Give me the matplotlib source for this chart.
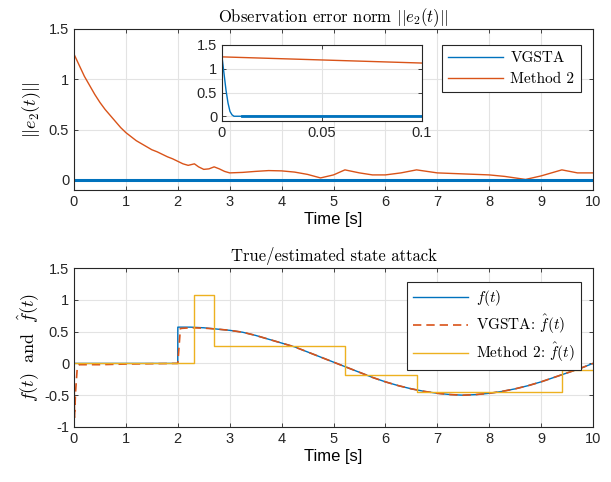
import numpy as np
import matplotlib
matplotlib.use("Agg")
import matplotlib.pyplot as plt

plt.rcParams.update({
    "font.family": ["Liberation Sans", "DejaVu Sans"],
    "mathtext.fontset": "cm",
    "axes.formatter.use_mathtext": False,
    "axes.linewidth": 0.8,
})

BLUE = "#0072BD"
ORANGE = "#D95319"
YELLOW = "#EDB120"
SERIF = "cmr10"

# ---- top panel: observation error norm ----
t_m2 = [0, 0.1, 0.2, 0.3, 0.4, 0.5, 0.6, 0.7, 0.8, 0.9, 1.0, 1.1, 1.2, 1.3, 1.4,
        1.5, 1.6, 1.7, 1.8, 1.9, 2.0, 2.1, 2.2, 2.32, 2.4, 2.5, 2.6, 2.7, 2.8,
        2.9, 3.0, 3.25, 3.5, 3.75, 4.0, 4.25, 4.5, 4.75, 5.0, 5.22, 5.5, 5.75,
        6.0, 6.3, 6.6, 7.0, 7.5, 8.0, 8.3, 8.7, 9.0, 9.4, 9.7, 10.0]
e_m2 = [1.25, 1.14, 1.03, 0.94, 0.85, 0.77, 0.70, 0.64, 0.58, 0.52, 0.47, 0.43,
        0.39, 0.36, 0.33, 0.30, 0.28, 0.255, 0.23, 0.21, 0.185, 0.16, 0.145, 0.16,
        0.13, 0.105, 0.11, 0.13, 0.11, 0.085, 0.07, 0.075, 0.085, 0.093, 0.09,
        0.078, 0.055, 0.02, 0.05, 0.10, 0.07, 0.05, 0.05, 0.07, 0.10, 0.07, 0.06,
        0.05, 0.035, 0.005, 0.04, 0.10, 0.07, 0.07]
t_vg = [0, 0.001, 0.002, 0.003, 0.004, 0.005, 0.006, 0.01, 0.1, 10.0]
e_vg = [1.25, 0.90, 0.55, 0.28, 0.10, 0.03, 0.0, 0.0, 0.0, 0.0]
t_m2_zoom = [0, 0.1]
e_m2_zoom = [1.25, 1.12]

# ---- bottom panel: true / estimated attack ----
t_f = [0, 1.999, 2.0, 2.25, 2.5, 2.75, 3.0, 3.25, 3.5, 3.75, 4.0, 4.25, 4.5, 4.75,
       5.0, 5.25, 5.5, 5.75, 6.0, 6.25, 6.5, 6.75, 7.0, 7.25, 7.5, 7.75, 8.0,
       8.25, 8.5, 8.75, 9.0, 9.25, 9.5, 9.75, 10.0]
f_true = [0, 0, 0.57, 0.57, 0.56, 0.54, 0.52, 0.49, 0.44, 0.38, 0.32, 0.26, 0.18,
          0.10, 0.02, -0.06, -0.14, -0.22, -0.29, -0.35, -0.40, -0.44, -0.47,
          -0.49, -0.50, -0.49, -0.47, -0.44, -0.40, -0.35, -0.29, -0.22, -0.15,
          -0.08, 0.0]
t_vgf = [0, 0.01, 0.03, 0.06, 0.1, 0.5, 1.0, 2.0, 2.05, 2.25, 2.5, 2.75, 3.0, 3.25,
         3.5, 3.75, 4.0, 4.25, 4.5, 4.75, 5.0, 5.25, 5.5, 5.75, 6.0, 6.25, 6.5,
         6.75, 7.0, 7.25, 7.5, 7.75, 8.0, 8.25, 8.5, 8.75, 9.0, 9.25, 9.5, 9.75, 10.0]
f_vg = [0, -0.85, -0.45, -0.10, -0.02, -0.02, -0.01, 0.0, 0.55, 0.56, 0.555, 0.54,
        0.52, 0.49, 0.44, 0.38, 0.32, 0.26, 0.18, 0.10, 0.02, -0.06, -0.14, -0.22,
        -0.29, -0.35, -0.40, -0.44, -0.47, -0.49, -0.50, -0.49, -0.47, -0.44,
        -0.40, -0.35, -0.29, -0.22, -0.15, -0.08, 0.0]
t_step = [0, 2.32, 2.7, 5.22, 6.6, 9.4, 10.0]
f_m2 = [0.0, 1.08, 0.27, -0.19, -0.45, -0.10, -0.10]

fig = plt.figure(figsize=(6.11, 4.82), dpi=100)
W, H = 611, 482

def px_axes(l, t, r, b):
    return fig.add_axes([l / W, 1 - b / H, (r - l) / W, (b - t) / H])

def style(ax):
    ax.grid(True, color="#e3e3e3", lw=0.8)
    ax.set_axisbelow(True)
    ax.tick_params(direction="in", length=3, width=0.6, labelsize=10.5,
                   colors="#262626", top=True, right=True)
    for s in ax.spines.values():
        s.set_color("#262626")

ax1 = px_axes(74, 29, 593, 190)
ax1.plot(t_vg, e_vg, color=BLUE, lw=1.0, label="VGSTA")
ax1.plot(t_m2, e_m2, color=ORANGE, lw=1.0, label="Method 2")
ax1.plot(t_vg[-3:], e_vg[-3:], color=BLUE, lw=2.2)
ax1.set_xlim(0, 10)
ax1.set_ylim(-0.1, 1.5)
ax1.set_xticks(range(11))
ax1.set_yticks([0, 0.5, 1, 1.5])
ax1.set_yticklabels(["0", "0.5", "1", "1.5"])
style(ax1)
ax1.set_title(r"Observation error norm $||e_2(t)||$", family=SERIF, fontsize=12, pad=5)
ax1.set_xlabel("Time [s]", fontsize=12, labelpad=2)
ax1.set_ylabel(r"$||e_2(t)||$", fontsize=13)
leg1 = ax1.legend(loc="upper right", bbox_to_anchor=(0.976, 0.9), prop={"family": SERIF, "size": 11},
                  fancybox=False, edgecolor="#262626", framealpha=1, handlelength=3.6,
                  borderaxespad=0, handletextpad=0.5)
leg1.get_frame().set_linewidth(0.8)

ins = px_axes(222, 45, 422, 121)
ins.plot(t_vg, e_vg, color=BLUE, lw=1.0)
ins.plot(t_m2_zoom, e_m2_zoom, color=ORANGE, lw=1.0)
ins.plot(t_vg[-3:], e_vg[-3:], color=BLUE, lw=2.0)
ins.set_xlim(0, 0.1)
ins.set_ylim(-0.1, 1.5)
ins.set_xticks([0, 0.05, 0.1])
ins.set_xticklabels(["0", "0.05", "0.1"])
ins.set_yticks([0, 0.5, 1, 1.5])
ins.set_yticklabels(["0", "0.5", "1", "1.5"])
style(ins)
ins.patch.set_facecolor("white")

ax2 = px_axes(74, 268, 593, 427)
ax2.plot(t_f, f_true, color=BLUE, lw=1.0, label=r"$f(t)$")
ax2.plot(t_vgf, f_vg, color=ORANGE, lw=1.2, ls=(0, (5, 3)), label=r"VGSTA: $\hat{f}(t)$")
ax2.step(t_step, f_m2, where="post", color=YELLOW, lw=1.0, label=r"Method 2: $\hat{f}(t)$")
ax2.set_xlim(0, 10)
ax2.set_ylim(-1, 1.5)
ax2.set_xticks(range(11))
ax2.set_yticks([-1, -0.5, 0, 0.5, 1, 1.5])
ax2.set_yticklabels(["-1", "-0.5", "0", "0.5", "1", "1.5"])
style(ax2)
ax2.set_title("True/estimated state attack", family=SERIF, fontsize=12, pad=5)
ax2.set_xlabel("Time [s]", fontsize=12, labelpad=2)
ax2.set_ylabel(r"$f(t)\ \ \mathrm{and}\ \ \hat{f}(t)$", fontsize=13, labelpad=2)
leg2 = ax2.legend(loc="upper right", bbox_to_anchor=(0.976, 0.91), prop={"family": SERIF, "size": 11},
                  fancybox=False, edgecolor="#262626", framealpha=1, handlelength=3.6,
                  borderaxespad=0, handletextpad=0.5, labelspacing=0.3)
leg2.get_frame().set_linewidth(0.8)

fig.savefig("out.png", dpi=100)
